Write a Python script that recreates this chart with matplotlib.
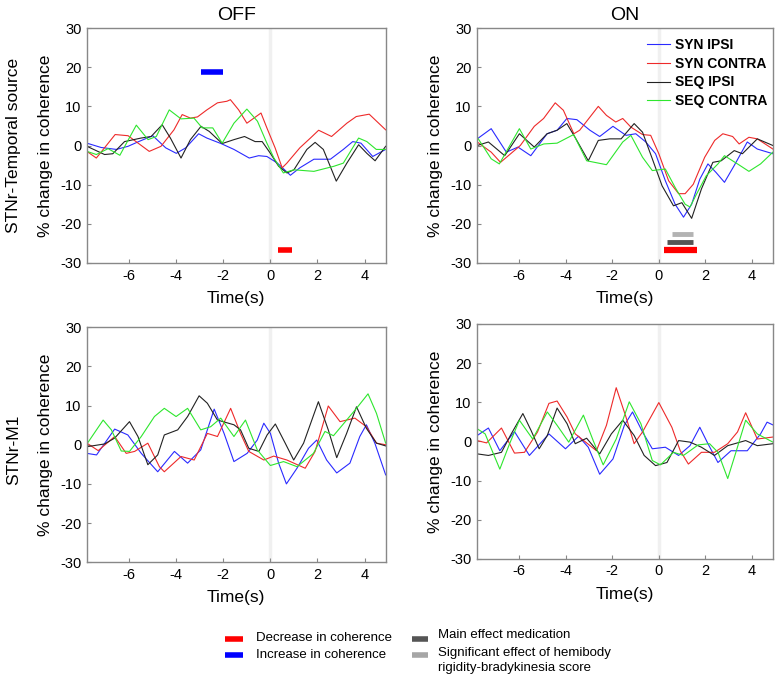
import matplotlib
matplotlib.use("Agg")
import matplotlib.pyplot as plt
from matplotlib.lines import Line2D

plt.rcParams['font.family'] = ['Liberation Sans', 'DejaVu Sans']
plt.rcParams['axes.unicode_minus'] = False

# ---- STNr-Temporal source, OFF ----
off_tmp_red_t = [-7.8, -7.4, -6.6, -6.05, -5.15, -4.65, -4.1, -3.75, -3.4, -3.1, -2.7, -2.25, -1.85, -1.7, -1.35, -1.0, -0.7, -0.4, -0.15, 0.2, 0.5, 0.7, 1.25, 1.7, 2.05, 2.6, 3.25, 3.65, 4.2, 4.9]
off_tmp_red_y = [-1.5, -3.2, 2.8, 2.5, -1.5, -0.2, 4.0, 7.9, 7.0, 7.3, 9.1, 10.9, 11.3, 11.7, 9.1, 5.7, 7.0, 8.3, 4.5, -0.6, -5.7, -4.5, -0.6, 1.9, 3.9, 2.3, 5.7, 7.4, 8.0, 4.0]
off_tmp_green_t = [-7.8, -7.4, -6.9, -6.4, -5.7, -5.2, -4.85, -4.3, -3.8, -3.25, -2.9, -2.45, -2.05, -1.55, -1.0, -0.55, -0.15, 0.15, 0.55, 1.0, 1.85, 2.7, 3.1, 3.75, 4.1, 4.5, 4.9]
off_tmp_green_y = [-1.5, -2.3, -0.8, -2.5, 5.2, 1.5, 2.3, 9.1, 6.8, 7.0, 4.5, 4.5, 0.6, 5.7, 9.3, 6.2, 0.6, -3.2, -7.0, -6.2, -6.6, -5.3, -4.5, 1.9, 1.0, -1.0, -1.0]
off_tmp_black_t = [-7.8, -7.05, -6.7, -6.2, -5.5, -5.07, -4.6, -4.25, -3.8, -3.4, -2.95, -2.6, -2.05, -1.55, -1.1, -0.65, -0.35, 0.0, 0.35, 0.7, 1.0, 1.55, 1.9, 2.25, 2.8, 3.25, 3.75, 4.1, 4.45, 4.9]
off_tmp_black_y = [-0.2, -2.3, -2.1, 1.0, 1.9, 2.3, 5.3, 1.9, -3.2, 1.5, 4.9, 3.6, 0.5, 1.5, 2.3, 1.0, 1.0, -2.0, -5.3, -7.0, -6.2, -1.0, 0.8, -1.0, -9.1, -4.5, 0.2, -2.0, -3.9, -0.2]
off_tmp_blue_t = [-7.8, -7.2, -6.55, -6.05, -5.6, -5.0, -4.45, -4.0, -3.6, -3.05, -2.7, -2.1, -1.55, -0.9, -0.5, -0.15, 0.3, 0.85, 1.25, 1.85, 2.55, 3.1, 3.5, 3.85, 4.35, 4.9]
off_tmp_blue_y = [0.6, -0.5, -1.0, -0.2, 1.0, 2.5, -0.6, -2.0, -0.6, 3.0, 1.9, 0.5, -1.0, -3.2, -2.6, -2.8, -4.5, -7.6, -5.7, -3.5, -3.5, -1.0, 1.0, 0.6, -2.8, -1.0]

# ---- STNr-Temporal source, ON ----
on_tmp_red_t = [-7.8, -7.2, -6.8, -5.95, -5.35, -4.95, -4.45, -4.1, -3.65, -3.4, -2.6, -2.25, -1.85, -1.55, -1.2, -0.7, -0.35, 0.0, 0.42, 0.85, 1.13, 1.48, 1.97, 2.4, 2.75, 3.17, 3.45, 3.87, 4.23, 4.9]
on_tmp_red_y = [0.9, -1.7, -4.3, 0.0, 4.9, 6.9, 10.9, 9.0, 3.0, 3.9, 10.0, 7.7, 6.0, 6.9, 4.7, 2.8, 2.6, -2.1, -9.0, -12.3, -12.3, -9.9, -3.0, 1.3, 3.0, 2.3, 0.4, 2.1, 1.7, -0.9]
on_tmp_blue_t = [-7.8, -7.2, -6.55, -6.05, -5.5, -4.8, -4.37, -3.95, -3.52, -2.96, -2.54, -1.97, -1.41, -0.99, -0.56, -0.14, 0.28, 0.7, 1.06, 1.41, 1.76, 2.11, 2.46, 2.82, 3.24, 3.8, 4.23, 4.9]
on_tmp_blue_y = [1.7, 4.3, -1.7, -0.4, -2.6, 3.0, 3.9, 6.9, 6.6, 3.9, 2.3, 4.9, 2.6, 3.0, 0.9, -2.1, -9.0, -15.0, -18.3, -15.0, -8.6, -4.7, -6.9, -9.4, -5.1, 0.9, -0.9, -2.1]
on_tmp_black_t = [-7.8, -7.32, -6.62, -5.99, -5.35, -4.8, -4.37, -3.95, -3.6, -3.03, -2.6, -2.11, -1.62, -1.06, -0.7, -0.28, 0.14, 0.63, 0.99, 1.41, 1.83, 2.32, 2.68, 3.24, 3.59, 4.23, 4.9]
on_tmp_black_y = [0.0, 0.9, -2.6, 3.0, -0.4, 3.0, 3.9, 5.6, 2.1, -3.9, 1.3, 1.7, 1.7, 5.6, 3.4, -3.4, -10.3, -15.4, -14.6, -18.6, -11.1, -4.3, -3.9, -1.3, -2.1, 1.7, 0.0]
on_tmp_green_t = [-7.8, -7.2, -6.85, -5.99, -5.5, -4.94, -4.37, -3.66, -3.1, -2.25, -1.55, -1.2, -0.7, -0.28, 0.28, 0.7, 1.13, 1.34, 1.62, 2.04, 2.54, 2.82, 3.38, 3.87, 4.37, 4.9]
on_tmp_green_y = [2.1, -3.4, -4.7, 4.3, -0.9, 0.4, 0.6, 2.8, -3.9, -4.9, 0.9, 2.6, -3.0, -6.4, -6.0, -10.7, -15.0, -15.7, -12.4, -7.7, -4.7, -2.6, -4.7, -6.6, -4.7, -1.7]

# ---- STNr-M1, OFF ----
off_m1_black_t = [-7.8, -7.05, -6.62, -5.99, -5.63, -5.21, -4.79, -4.51, -3.94, -3.52, -3.03, -2.68, -2.25, -1.55, -1.27, -0.92, -0.49, -0.14, 0.21, 0.63, 0.99, 1.41, 2.04, 2.46, 2.82, 3.24, 3.66, 4.08, 4.51, 4.9]
off_m1_black_y = [-0.5, 0.2, 1.7, 5.9, 2.1, -5.1, -2.6, 2.5, 3.8, 7.2, 12.5, 10.6, 6.3, 5.1, 3.8, -0.9, -1.7, 2.5, 5.3, 0.4, -3.9, 0.4, 11.0, 3.8, -3.3, 2.9, 9.7, 4.2, 0.4, -0.3]
off_m1_green_t = [-7.8, -7.11, -6.76, -6.34, -5.99, -5.49, -4.93, -4.51, -4.01, -3.52, -2.96, -2.54, -2.11, -1.55, -1.06, -0.56, 0.0, 0.56, 1.13, 1.83, 2.32, 2.68, 3.24, 3.66, 4.15, 4.51, 4.9]
off_m1_green_y = [0.2, 6.3, 3.8, -1.6, -1.7, 2.1, 7.2, 9.3, 7.2, 9.3, 3.8, 4.6, 6.8, 2.1, 6.3, -1.3, -5.3, -4.3, -5.6, -2.2, 3.4, 2.3, 6.3, 9.3, 13.0, 8.0, 0.4]
off_m1_red_t = [-7.8, -7.32, -6.62, -6.13, -5.77, -5.21, -4.72, -4.51, -3.8, -3.24, -2.68, -2.25, -1.69, -1.27, -0.92, -0.28, 0.14, 0.7, 1.48, 1.9, 2.46, 2.96, 3.59, 4.08, 4.51, 4.9]
off_m1_red_y = [0.4, -1.5, 2.1, -2.2, -1.7, 0.4, -5.6, -6.9, -3.0, -3.9, 2.9, 2.1, 9.3, 2.9, -1.7, -3.9, -2.9, -3.9, -6.0, -1.7, 9.9, 5.9, 6.8, 4.6, 0.4, 0.0]
off_m1_blue_t = [-7.8, -7.39, -6.62, -6.06, -5.49, -4.79, -4.08, -3.52, -2.96, -2.39, -1.97, -1.55, -0.99, -0.56, -0.28, 0.0, 0.35, 0.68, 1.13, 1.62, 1.97, 2.39, 2.82, 3.38, 3.8, 4.08, 4.44, 4.9]
off_m1_blue_y = [-2.2, -2.6, 4.0, 2.5, -2.2, -6.9, -1.7, -4.7, -1.3, 9.1, 2.9, -4.3, -2.2, 1.2, 5.5, 2.9, -4.7, -10.0, -6.0, -0.9, 1.2, -3.9, -7.2, -4.7, 2.1, 5.1, 0.4, -7.7]

# ---- STNr-M1, ON ----
on_m1_red_t = [-7.8, -7.4, -6.76, -6.2, -5.77, -5.21, -4.72, -4.37, -3.94, -3.59, -3.1, -2.68, -2.25, -1.83, -1.41, -1.06, -0.7, 0.0, 0.56, 0.92, 1.27, 1.83, 2.39, 2.96, 3.38, 3.73, 4.23, 4.9]
on_m1_red_y = [0.2, -0.4, 3.4, -3.0, -2.8, 2.4, 9.7, 10.3, 6.2, 1.9, -0.4, -2.4, 4.1, 13.7, 6.2, -0.6, 2.4, 9.9, 3.6, -2.4, -5.8, -2.8, -2.8, -0.6, 2.4, 7.3, 0.6, 1.1]
on_m1_blue_t = [-7.8, -7.32, -6.83, -6.2, -5.56, -4.72, -4.01, -3.45, -3.03, -2.54, -1.97, -1.48, -1.13, -0.7, -0.28, 0.28, 0.85, 1.34, 1.76, 2.11, 2.54, 3.1, 3.8, 4.37, 4.65, 4.9]
on_m1_blue_y = [1.5, 3.4, -2.4, 2.5, -3.6, 1.9, -1.9, 1.3, -1.5, -8.4, -4.5, 4.1, 7.5, 2.4, -1.9, -1.5, -3.6, -1.1, 3.6, -0.6, -5.4, -2.4, -2.4, 1.9, 4.9, 4.2]
on_m1_black_t = [-7.8, -7.32, -6.76, -6.34, -5.84, -5.49, -5.14, -4.79, -4.37, -3.94, -3.59, -3.1, -2.54, -2.04, -1.55, -1.06, -0.63, -0.14, 0.35, 0.85, 1.34, 1.83, 2.39, 2.96, 3.73, 4.23, 4.9]
on_m1_black_y = [-3.2, -3.6, -2.8, 1.9, 7.1, 2.8, -1.9, 1.5, 8.5, 4.5, -0.6, 0.8, -3.2, 1.9, 5.4, 1.5, -3.6, -6.2, -5.4, 0.2, -0.2, -1.5, -3.6, -1.1, 0.2, -1.1, -0.6]
on_m1_green_t = [-7.8, -7.46, -6.83, -6.41, -5.99, -5.42, -4.79, -4.37, -3.87, -3.24, -2.82, -2.39, -1.83, -1.27, -0.77, -0.28, 0.07, 0.63, 1.06, 1.69, 2.18, 2.54, 2.96, 3.31, 3.73, 4.23, 4.9]
on_m1_green_y = [3.2, 1.9, -7.1, -0.6, 5.4, 0.6, 7.5, 4.1, -0.2, 6.7, 0.2, -6.0, 0.6, 10.1, 4.5, -4.9, -6.0, -2.8, -3.6, -0.9, -0.6, -2.8, -9.5, -2.8, 5.4, 1.9, -0.2]

# significance bars: (start, end, level)
off_tmp_incr = (-2.95, -2.0, 18.7)
off_tmp_decr = (0.33, 0.93, -26.6)
on_tmp_hemi = (0.56, 1.48, -22.5)
on_tmp_med = (0.35, 1.48, -24.6)
on_tmp_decr = (0.24, 1.66, -26.6)

series_names = ['SYN IPSI', 'SYN CONTRA', 'SEQ IPSI', 'SEQ CONTRA']
c_blue, c_red, c_black, c_green = '#2a2aff', '#ee2a2a', '#222222', '#2ee62e'

fig = plt.figure(figsize=(7.76, 6.79), dpi=100)
ax_tl = fig.add_axes([0.112, 0.6127, 0.385, 0.346])
ax_tr = fig.add_axes([0.615, 0.6127, 0.381, 0.346])
ax_bl = fig.add_axes([0.112, 0.172, 0.385, 0.346])
ax_br = fig.add_axes([0.615, 0.177, 0.381, 0.346])

panels = [
    (ax_tl, [(off_tmp_blue_t, off_tmp_blue_y), (off_tmp_red_t, off_tmp_red_y),
             (off_tmp_black_t, off_tmp_black_y), (off_tmp_green_t, off_tmp_green_y)]),
    (ax_tr, [(on_tmp_blue_t, on_tmp_blue_y), (on_tmp_red_t, on_tmp_red_y),
             (on_tmp_black_t, on_tmp_black_y), (on_tmp_green_t, on_tmp_green_y)]),
    (ax_bl, [(off_m1_blue_t, off_m1_blue_y), (off_m1_red_t, off_m1_red_y),
             (off_m1_black_t, off_m1_black_y), (off_m1_green_t, off_m1_green_y)]),
    (ax_br, [(on_m1_blue_t, on_m1_blue_y), (on_m1_red_t, on_m1_red_y),
             (on_m1_black_t, on_m1_black_y), (on_m1_green_t, on_m1_green_y)]),
]
colors = [c_blue, c_red, c_black, c_green]

for ax, lines in panels:
    ax.axvline(0, color='#f0f0f0', lw=2.5, zorder=0)
    for (t, y), c, name in zip(lines, colors, series_names):
        ax.plot(t, y, color=c, lw=0.8, label=name)
    ax.set_xlim(-7.8, 4.9)
    ax.set_ylim(-30, 30)
    ax.set_xticks([-6, -4, -2, 0, 2, 4])
    ax.set_yticks([-30, -20, -10, 0, 10, 20, 30])
    ax.tick_params(direction='in', length=3, color='#888888', labelsize=10.5, pad=4)
    for s in ax.spines.values():
        s.set_color('#888888')
        s.set_linewidth(1.0)
    ax.set_xlabel('Time(s)', fontsize=12.5, labelpad=6)
    ax.set_ylabel('% change in coherence', fontsize=12.5, labelpad=5)

ax_tl.set_title('OFF', fontsize=14, pad=6)
ax_tr.set_title('ON', fontsize=14, pad=6)

def bar(ax, seg, color, lw):
    ax.plot([seg[0], seg[1]], [seg[2], seg[2]], color=color, lw=lw, solid_capstyle='butt')

bar(ax_tl, off_tmp_incr, '#0000ff', 4)
bar(ax_tl, off_tmp_decr, '#ff0000', 4)
bar(ax_tr, on_tmp_hemi, '#b3b3b3', 3.5)
bar(ax_tr, on_tmp_med, '#555555', 3.5)
bar(ax_tr, on_tmp_decr, '#ff0000', 4.5)

leg = ax_tr.legend(loc='upper right', bbox_to_anchor=(1.015, 1.0), frameon=False,
                   prop={'weight': 'bold', 'size': 10}, handlelength=1.6,
                   handletextpad=0.4, labelspacing=0.35, borderaxespad=0.3)

fig.text(0.017, 0.786, 'STNr-Temporal source', rotation=90, ha='center', va='center', fontsize=12.5)
fig.text(0.017, 0.337, 'STNr-M1', rotation=90, ha='center', va='center', fontsize=12.5)

# bottom key
H = 679.0
W = 776.0
def key(x0, x1, ypix, color):
    fig.add_artist(Line2D([x0 / W, x1 / W], [1 - ypix / H, 1 - ypix / H], color=color, lw=4,
                          solid_capstyle='butt', transform=fig.transFigure))

key(225, 243, 639, '#ff0000')
key(225, 243, 655, '#0000ff')
key(412, 428, 639, '#555555')
key(412, 428, 655, '#a6a6a6')
kw = dict(fontsize=9.5, va='center', ha='left')
fig.text(256 / W, 1 - 638 / H, 'Decrease in coherence', **kw)
fig.text(256 / W, 1 - 655 / H, 'Increase in coherence', **kw)
fig.text(438 / W, 1 - 635 / H, 'Main effect medication', **kw)
fig.text(438 / W, 1 - 653 / H, 'Significant effect of hemibody', **kw)
fig.text(438 / W, 1 - 668 / H, 'rigidity-bradykinesia score', **kw)

fig.savefig('out.png', dpi=100)
